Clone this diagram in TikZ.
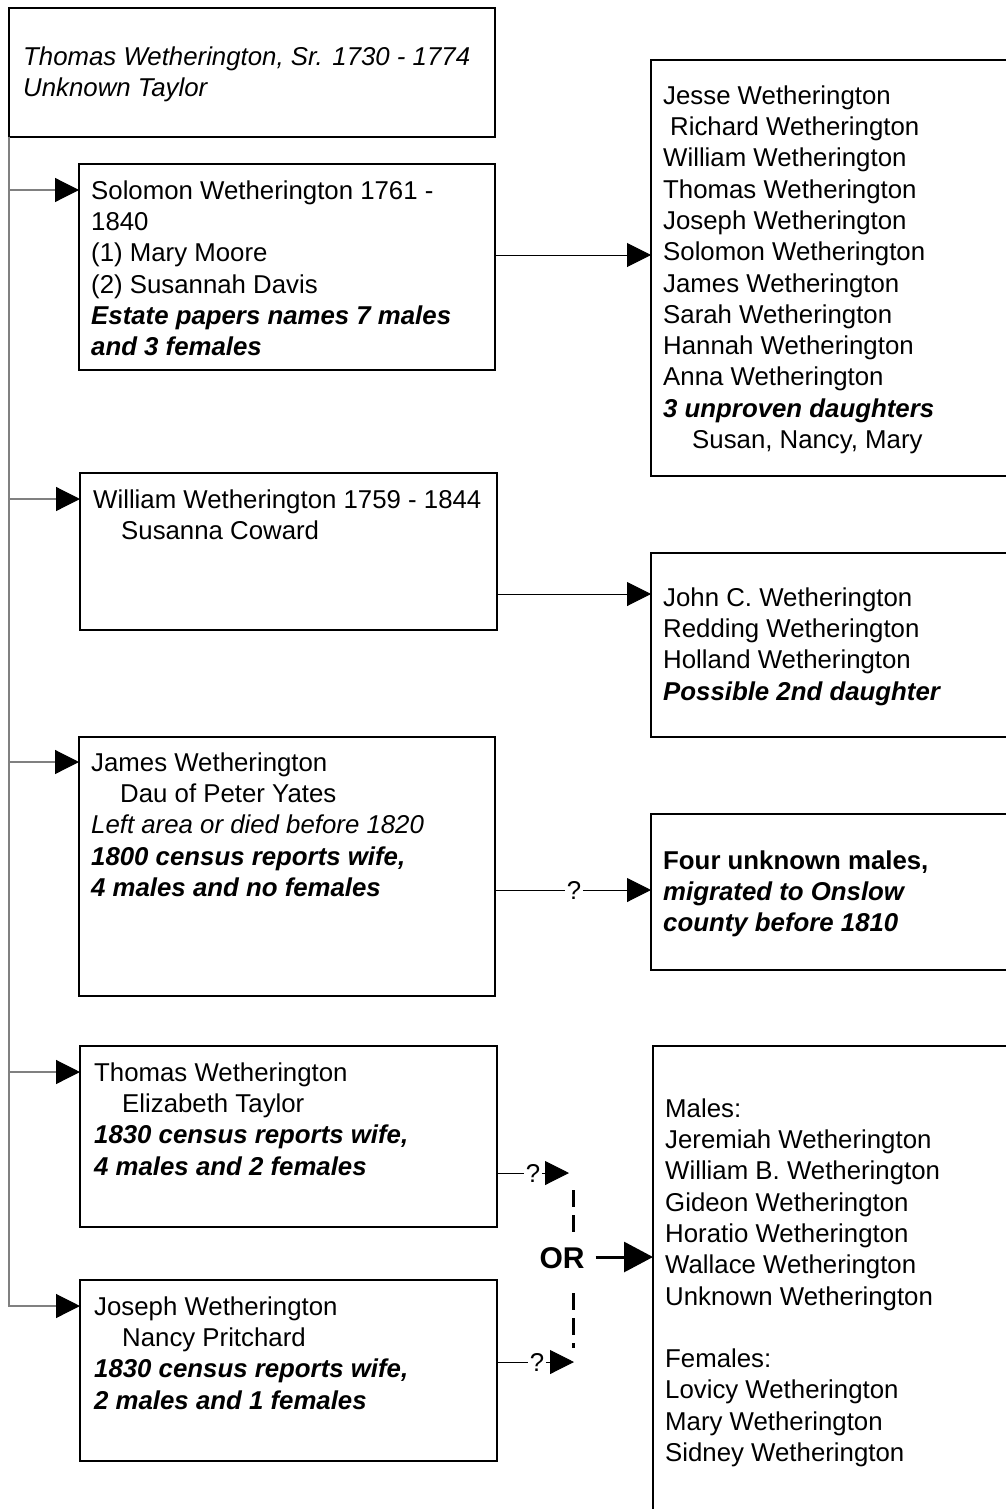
\documentclass[tikz,border=0pt]{standalone}
\usepackage{fontspec}
\setmainfont{Liberation Sans}
\usetikzlibrary{arrows.meta,calc}
\newcommand{\fl}{\rule{0pt}{22pt}}
\newcommand{\bodyfont}{\fontsize{25.8}{31.3}\selectfont}
\newcommand{\bi}[1]{\textbf{\textit{#1}}}
\begin{document}
\begin{tikzpicture}[x=1pt,y=-1pt,
  box/.style={draw=black, line width=2pt, rectangle, inner sep=0pt, outer sep=0pt, anchor=north west},
  txt/.style={inner sep=0pt, anchor=north west, align=left, font=\bodyfont},
  lconn/.style={draw=gray, line width=1.2pt, -{Triangle[length=24pt,width=24pt,color=black]}},
  rconn/.style={draw=black, line width=1pt, -{Triangle[length=24pt,width=24pt]}},
  plainline/.style={draw=black, line width=1pt},
  qlab/.style={inner sep=1.5pt, font=\bodyfont},
  dashline/.style={draw=black, line width=3pt, dash pattern=on 17pt off 8pt},
  orlab/.style={inner sep=2pt, font=\fontsize{30}{36}\selectfont\bfseries},
  orarrow/.style={draw=black, line width=3pt, -{Triangle[length=29pt,width=30pt]}}
]
\clip (0,0) rectangle (1006,1509);
\fill[white] (0,0) rectangle (1006,1509);

% boxes
\node[box, minimum width=486pt, minimum height=129pt] (top) at (9,8) {};
\node[box, minimum width=416pt, minimum height=206pt] (sol) at (79,164) {};
\node[box, minimum width=420pt, minimum height=416pt] (r1) at (651,60) {};
\node[box, minimum width=417pt, minimum height=157pt] (wil) at (80,473) {};
\node[box, minimum width=420pt, minimum height=184pt] (r2) at (651,553) {};
\node[box, minimum width=416pt, minimum height=259pt] (jam) at (79,737) {};
\node[box, minimum width=420pt, minimum height=156pt] (r3) at (651,814) {};
\node[box, minimum width=417pt, minimum height=181pt] (tho) at (80,1046) {};
\node[box, minimum width=417pt, minimum height=181pt] (jos) at (80,1280) {};
\node[box, minimum width=420pt, minimum height=520pt] (r4) at (653,1046) {};

% texts
\node[txt, font=\bodyfont\itshape] (top-t) at (23,43) {\fl Thomas Wetherington, Sr. 1730 - 1774\\Unknown Taylor};
\node[txt] (sol-t) at (91,177) {\fl Solomon Wetherington 1761 -\\1840\\(1) Mary Moore\\(2) Susannah Davis\\\bi{Estate papers names 7 males}\\\bi{and 3 females}};
\node[txt] (r1-t) at (663,82) {\fl Jesse Wetherington\\\hspace*{7pt}Richard Wetherington\\William Wetherington\\Thomas Wetherington\\Joseph Wetherington\\Solomon Wetherington\\James Wetherington\\Sarah Wetherington\\Hannah Wetherington\\Anna Wetherington\\\bi{3 unproven daughters}\\\hspace*{29pt}Susan, Nancy, Mary};
\node[txt] (wil-t) at (93,486) {\fl William Wetherington 1759 - 1844\\\hspace*{28pt}Susanna Coward};
\node[txt] (r2-t) at (663,584) {\fl John C. Wetherington\\Redding Wetherington\\Holland Wetherington\\\bi{Possible 2nd daughter}};
\node[txt] (jam-t) at (91,749) {\fl James Wetherington\\\hspace*{29pt}Dau of Peter Yates\\\textit{Left area or died before 1820}\\\bi{1800 census reports wife,}\\\bi{4 males and no females}};
\node[txt] (r3-t) at (663,847) {\fl\textbf{Four unknown males,}\\\bi{migrated to Onslow}\\\bi{county before 1810}};
\node[txt] (tho-t) at (94,1059) {\fl Thomas Wetherington\\\hspace*{28pt}Elizabeth Taylor\\\bi{1830 census reports wife,}\\\bi{4 males and 2 females}};
\node[txt] (jos-t) at (94,1293) {\fl Joseph Wetherington\\\hspace*{28pt}Nancy Pritchard\\\bi{1830 census reports wife,}\\\bi{2 males and 1 females}};
\node[txt] (r4-t) at (665,1095) {\fl Males:\\Jeremiah Wetherington\\William B. Wetherington\\Gideon Wetherington\\Horatio Wetherington\\Wallace Wetherington\\Unknown Wetherington\\\mbox{}\\Females:\\Lovicy Wetherington\\Mary Wetherington\\Sidney Wetherington};

% trunk and left connectors
\draw[lconn] (top.south west) |- (jos.west |- 0,1306);
\draw[lconn] (top.south west |- 0,190) -- (sol.west |- 0,190);
\draw[lconn] (top.south west |- 0,499) -- (wil.west |- 0,499);
\draw[lconn] (top.south west |- 0,762) -- (jam.west |- 0,762);
\draw[lconn] (top.south west |- 0,1072) -- (tho.west |- 0,1072);

% right connectors
\draw[rconn] (sol.east |- 0,255) -- (r1.west |- 0,255);
\draw[rconn] (wil.east |- 0,594) -- (r2.west |- 0,594);

\node[qlab] (q0) at (574,890) {?};
\draw[plainline] (jam.east |- q0) -- (q0.west);
\draw[rconn] (q0.east) -- (r3.west |- q0);

\node[qlab] (q1) at (533,1173) {?};
\coordinate (t1) at (569,1173);
\draw[plainline] (tho.east |- q1) -- (q1.west);
\draw[rconn] (q1.east) -- (t1);

\node[qlab] (q2) at (537,1362) {?};
\coordinate (t2) at (574,1362);
\draw[plainline] (jos.east |- q2) -- (q2.west);
\draw[rconn] (q2.east) -- (t2);

% OR
\node[orlab] (or) at (562,1258) {OR};
\coordinate (d1) at (573,1190);
\coordinate (d2) at (573,1232);
\coordinate (d3) at (573,1293);
\coordinate (d4) at (573,1348);
\draw[dashline] (d1) -- (d2);
\draw[dashline] (d3) -- (d4);
\draw[orarrow] ($(or.east)+(9,-1)$) -- (r4.west |- 0,1257);
\end{tikzpicture}
\end{document}
